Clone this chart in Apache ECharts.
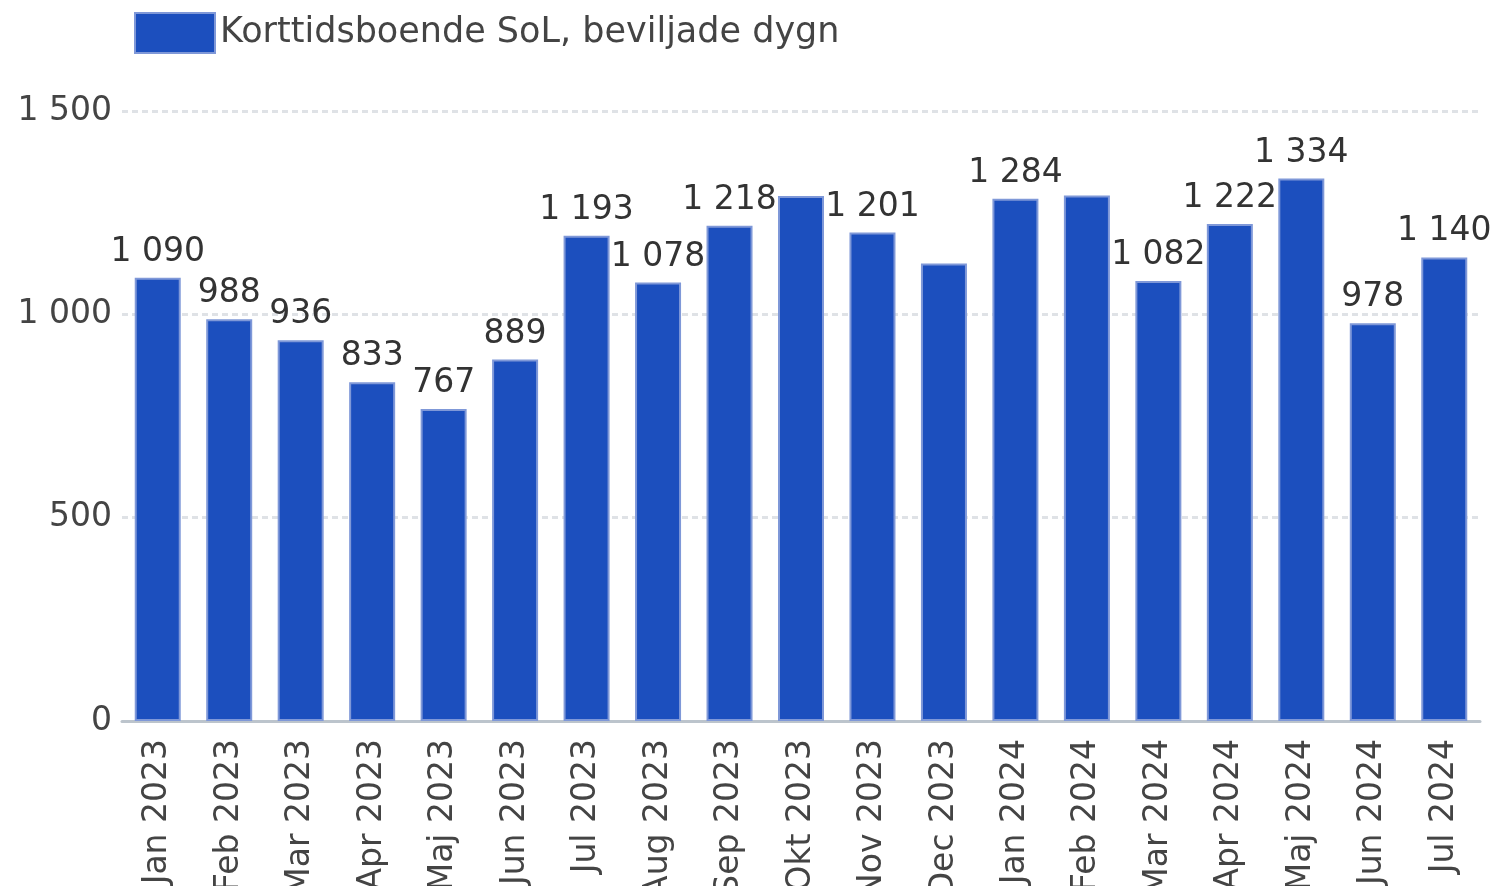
<!DOCTYPE html>
<html>
<head>
<meta charset="utf-8">
<script src="https://cdn.jsdelivr.net/npm/echarts@6/dist/echarts.min.js"></script>
<style>html,body{margin:0;padding:0;background:#fff;overflow:hidden}#c{width:1498px;height:886px}</style>
</head>
<body>
<div id="c"></div>
<script>
const categories = ['Jan 2023','Feb 2023','Mar 2023','Apr 2023','Maj 2023','Jun 2023','Jul 2023','Aug 2023','Sep 2023','Okt 2023','Nov 2023','Dec 2023','Jan 2024','Feb 2024','Mar 2024','Apr 2024','Maj 2024','Jun 2024','Jul 2024'];
const seriesName = 'Korttidsboende SoL, beviljade dygn';
const values = [1090, 988, 936, 833, 767, 889, 1193, 1078, 1218, 1291, 1201, 1125, 1284, 1292, 1082, 1222, 1334, 978, 1140];
const hiddenLabels = ['Okt 2023', 'Dec 2023', 'Feb 2024'];
const yTicks = [0, 500, 1000, 1500];

const FONT = 'DejaVu Sans';
const fmt = v => String(v).replace(/\B(?=(\d{3})+(?!\d))/g, ' ');

const data = values.map((v, i) => hiddenLabels.includes(categories[i]) ? {value: v, label: {show: false}} : v);

const chart = echarts.init(document.getElementById('c'), null, {renderer: 'canvas', width: 1498, height: 886});
chart.setOption({
  animation: false,
  backgroundColor: '#ffffff',
  legend: {
    left: 134, top: 12, padding: 0,
    itemWidth: 80, itemHeight: 40, itemGap: 10,
    icon: 'rect',
    textStyle: {fontFamily: FONT, fontSize: 35, color: '#444444', padding: [0, 0, 0, 0]},
    data: [seriesName]
  },
  grid: {left: 122, width: 1358, top: 111, height: 610, containLabel: false, outerBoundsMode: 'none'},
  xAxis: {
    type: 'category',
    data: categories,
    axisLine: {lineStyle: {color: '#bcc4cc', width: 3}},
    axisTick: {show: false},
    axisLabel: {rotate: 90, margin: 18, fontFamily: FONT, fontSize: 33, color: '#444444', interval: 0}
  },
  yAxis: {
    type: 'value',
    min: yTicks[0], max: yTicks[yTicks.length - 1], interval: 500,
    axisLine: {show: false},
    axisTick: {show: false},
    splitLine: {lineStyle: {color: '#dfe2e6', width: 3, type: [6, 4]}},
    axisLabel: {margin: 10, fontFamily: FONT, fontSize: 33, color: '#444444', formatter: v => fmt(v)}
  },
  series: [{
    name: seriesName,
    type: 'bar',
    data: data,
    barWidth: 46,
    itemStyle: {color: '#1c4fbe', borderColor: '#7f98d8', borderWidth: 2},
    label: {
      show: true, position: 'top', distance: 9,
      fontFamily: FONT, fontSize: 33, color: '#333333',
      formatter: p => fmt(p.value)
    }
  }]
});
</script>
</body>
</html>
